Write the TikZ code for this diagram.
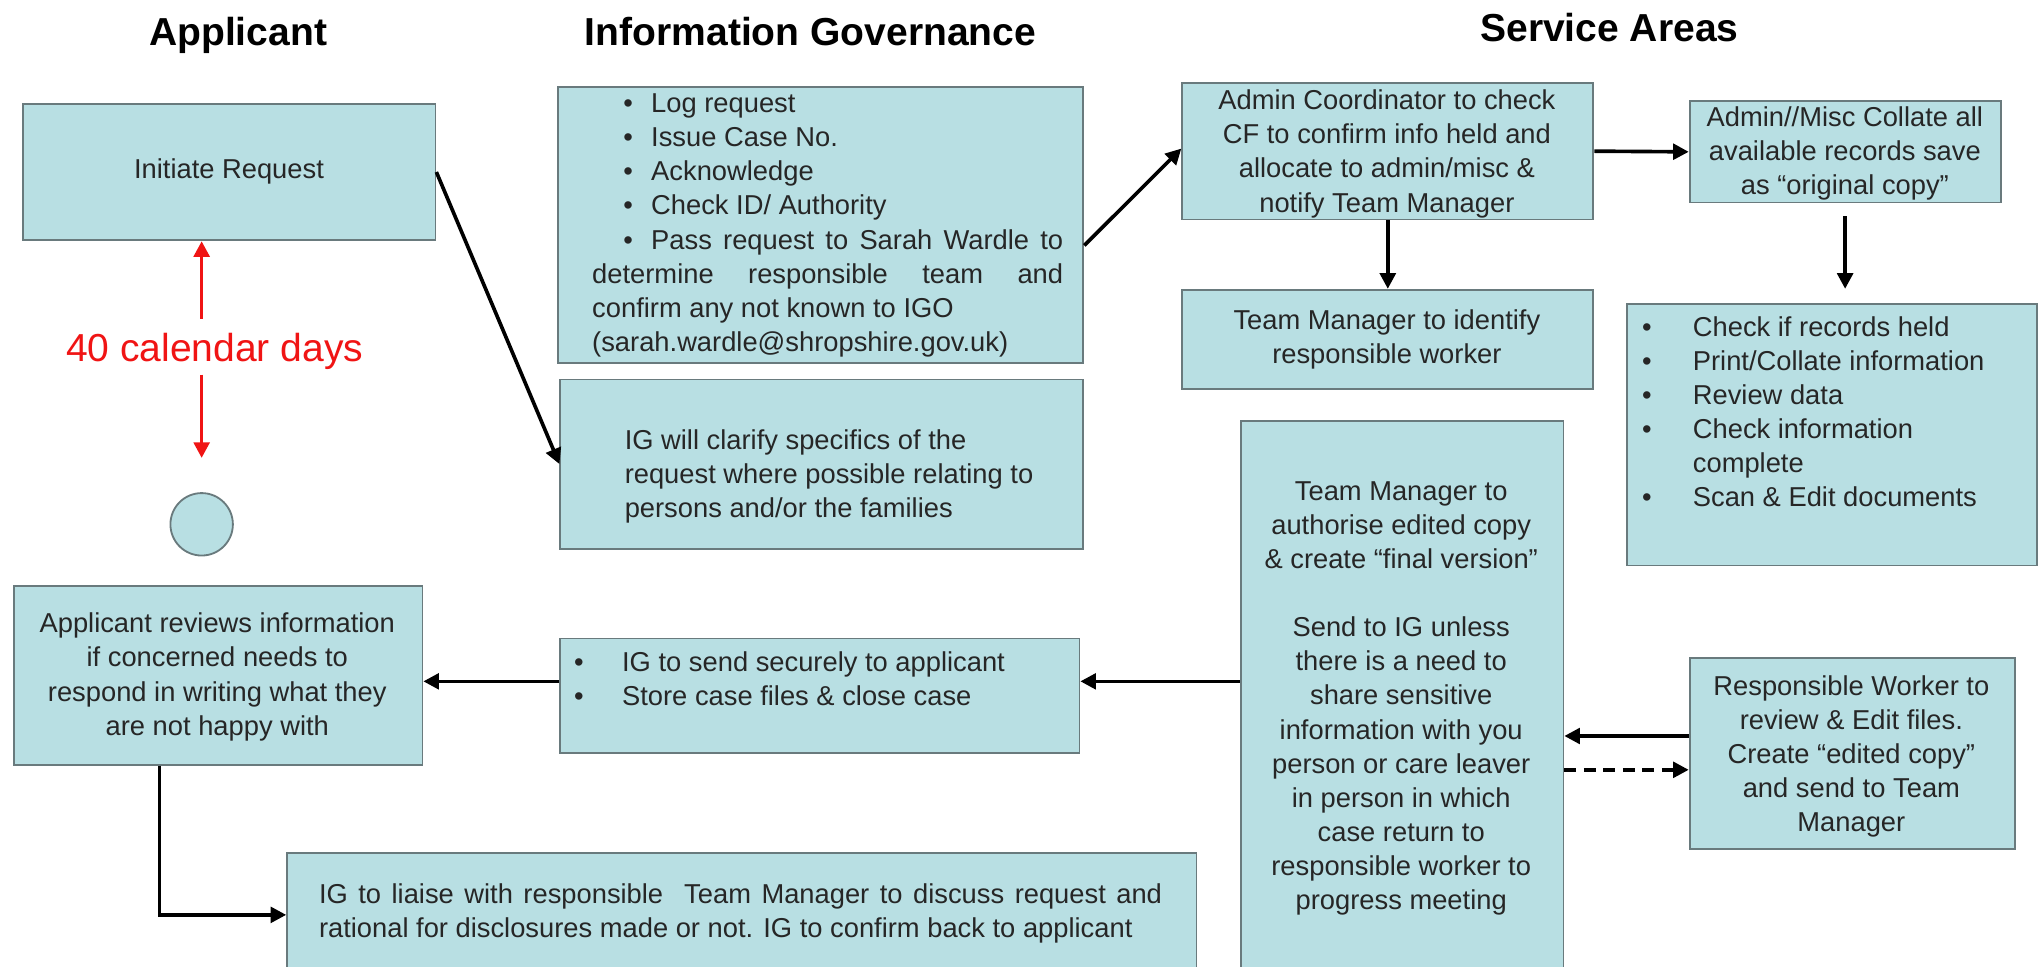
\documentclass[tikz,border=0pt]{standalone}
\usepackage{fontspec}
\setmainfont{Liberation Sans}
\usetikzlibrary{arrows.meta,calc}
\setlength{\parindent}{0pt}
\definecolor{boxfill}{RGB}{184,223,227}
\definecolor{boxline}{RGB}{105,122,125}
\definecolor{txt}{RGB}{38,38,38}
\definecolor{redline}{RGB}{240,20,20}
\begin{document}
\begin{tikzpicture}[x=1pt,y=-1pt,
 box/.style={draw=boxline,fill=boxfill,line width=1.4pt,inner sep=0pt,anchor=north west},
 body/.style={font=\fontsize{21}{26.2}\selectfont,text=txt,inner sep=0pt},
 title/.style={font=\fontsize{30}{34}\selectfont\bfseries,text=black,inner sep=0pt},
 arr/.style={line width=2.8pt,-{Triangle[length=12pt,width=12pt]}},
 redarr/.style={line width=2.8pt,draw=redline,-{Triangle[length=12pt,width=12pt]}}]
\useasboundingbox (0,0) rectangle (1568,743);
\clip (0,0) rectangle (1568,743);
\fill[white] (0,0) rectangle (1568,743);

% titles
\node[title] (tapp) at (183,27) {Applicant};
\node[title] (tig) at (623,24) {Information Governance};
\node[title] (tsa) at (1237,21) {Service Areas};

% boxes
\node[box,minimum width=317pt,minimum height=105pt] (init) at (17,79) {};
\node[box,minimum width=404pt,minimum height=212pt] (ig1) at (428,66) {};
\node[box,minimum width=402pt,minimum height=130pt] (ig2) at (430,291) {};
\node[box,minimum width=316pt,minimum height=105pt] (adm) at (908,63) {};
\node[box,minimum width=239pt,minimum height=78pt] (misc) at (1298,77) {};
\node[box,minimum width=316pt,minimum height=76pt] (tmid) at (908,222) {};
\node[box,minimum width=315pt,minimum height=201pt] (chk) at (1250,233) {};
\node[box,minimum width=248pt,minimum height=440pt] (tma) at (953,323) {};
\node[box,minimum width=250pt,minimum height=147pt] (rw) at (1298,505) {};
\node[box,minimum width=399pt,minimum height=88pt] (igs) at (430,490) {};
\node[box,minimum width=314pt,minimum height=137pt] (appr) at (10,450) {};
\node[box,minimum width=699pt,minimum height=110pt] (igl) at (220,655) {};
\node[draw=boxline,fill=boxfill,line width=1.4pt,circle,minimum size=48pt,inner sep=0pt] (endc) at (155,403) {};

% texts
\node[body] (xinit) at (176,132) {Initiate Request};

\node[body,anchor=north west,text width=362pt,align=justify] (xig1) at (455,72) {%
\hspace*{24pt}\textbullet\hspace{14pt}Log request\\
\hspace*{24pt}\textbullet\hspace{14pt}Issue Case No.\\
\hspace*{24pt}\textbullet\hspace{14pt}Acknowledge\\
\hspace*{24pt}\textbullet\hspace{14pt}Check ID/ Authority\\
\hspace*{24pt}\textbullet\hspace{14pt}Pass request to Sarah Wardle to\linebreak
determine responsible team and\linebreak
confirm any not known to IGO\\
(sarah.wardle@shropshire.gov.uk)};

\node[body,anchor=north west,align=left] (xig2) at (480,330) {%
IG will clarify specifics of the\\
request where possible relating to\\
persons and/or the families};

\node[body,anchor=north,align=center] (xadm) at (1066,69) {%
Admin Coordinator to check\\
CF to confirm info held and\\
allocate to admin/misc \&\\
notify Team Manager};

\node[body,anchor=north,align=center] (xmisc) at (1418,82) {%
Admin//Misc Collate all\\
available records save\\
as “original copy”};

\node[body,anchor=north,align=center] (xtmid) at (1066,238) {%
Team Manager to identify\\
responsible worker};

\node[body,anchor=north west,align=left] (xchk) at (1262,243) {%
\makebox[39pt][l]{\textbullet}Check if records held\\
\makebox[39pt][l]{\textbullet}Print/Collate information\\
\makebox[39pt][l]{\textbullet}Review data\\
\makebox[39pt][l]{\textbullet}Check information\\
\hspace*{39pt}complete\\
\makebox[39pt][l]{\textbullet}Scan \& Edit documents};

\node[body,anchor=north,align=center] (xtma) at (1077,370) {%
Team Manager to\\
authorise edited copy\\
\& create “final version”\\[26.2pt]
Send to IG unless\\
there is a need to\\
share sensitive\\
information with you\\
person or care leaver\\
in person in which\\
case return to\\
responsible worker to\\
progress meeting};

\node[body,anchor=north,align=center] (xrw) at (1423,519) {%
Responsible Worker to\\
review \& Edit files.\\
Create “edited copy”\\
and send to Team\\
Manager};

\node[body,anchor=north west,align=left] (xigs) at (441,501) {%
\makebox[37pt][l]{\textbullet}IG to send securely to applicant\\
\makebox[37pt][l]{\textbullet}Store case files \& close case};

\node[body,anchor=north,align=center] (xappr) at (167,471) {%
Applicant reviews information\\
if concerned needs to\\
respond in writing what they\\
are not happy with};

\node[body,anchor=north west,text width=648pt,align=justify] (xigl) at (245,679) {%
\parfillskip=0pt IG to liaise with responsible\ \ Team Manager to discuss request and\linebreak
rational for disclosures made or not. IG to confirm back to applicant};

% red annotation
\node[font=\fontsize{30}{34}\selectfont,text=redline,inner sep=0pt] (days) at (165,270) {40 calendar days};
\coordinate (r1) at (155,245);
\coordinate (r2) at (155,288);
\coordinate (r3) at (155,352);
\draw[redarr] (r1) -- (r1 |- init.south);
\draw[redarr] (r2) -- (r3);

% anchor points for connectors
\coordinate (ig1out) at ([yshift=-16pt]ig1.east);
\coordinate (admin) at ([yshift=2pt]adm.west);
\coordinate (rwA) at ([yshift=13.5pt]rw.west);
\coordinate (rwB) at ([yshift=-12.5pt]rw.west);
\coordinate (igsE) at ([yshift=11pt]igs.east);
\coordinate (igsW) at ([yshift=11pt]igs.west);
\coordinate (apprS) at ([xshift=-45pt]appr.south);
\coordinate (iglW) at ([yshift=7.5pt]igl.west);

% connectors
\draw[arr] (init.east) -- (ig2.west);
\draw[arr] (ig1out) -- (admin);
\draw[arr] (adm.east) -- (misc.west);
\draw[arr] (adm.south) -- (tmid.north);
\draw[arr,shorten <=10pt,shorten >=11pt] (misc.south) -- (misc.south |- chk.north);
\draw[arr] (rwA) -- (tma.east |- rwA);
\draw[arr,dash pattern=on 9pt off 6pt] (tma.east |- rwB) -- (rwB);
\draw[arr] (tma.west |- igsE) -- (igsE);
\draw[arr] (igsW) -- (appr.east |- igsW);
\draw[arr] (apprS) |- (iglW);
\end{tikzpicture}
\end{document}
